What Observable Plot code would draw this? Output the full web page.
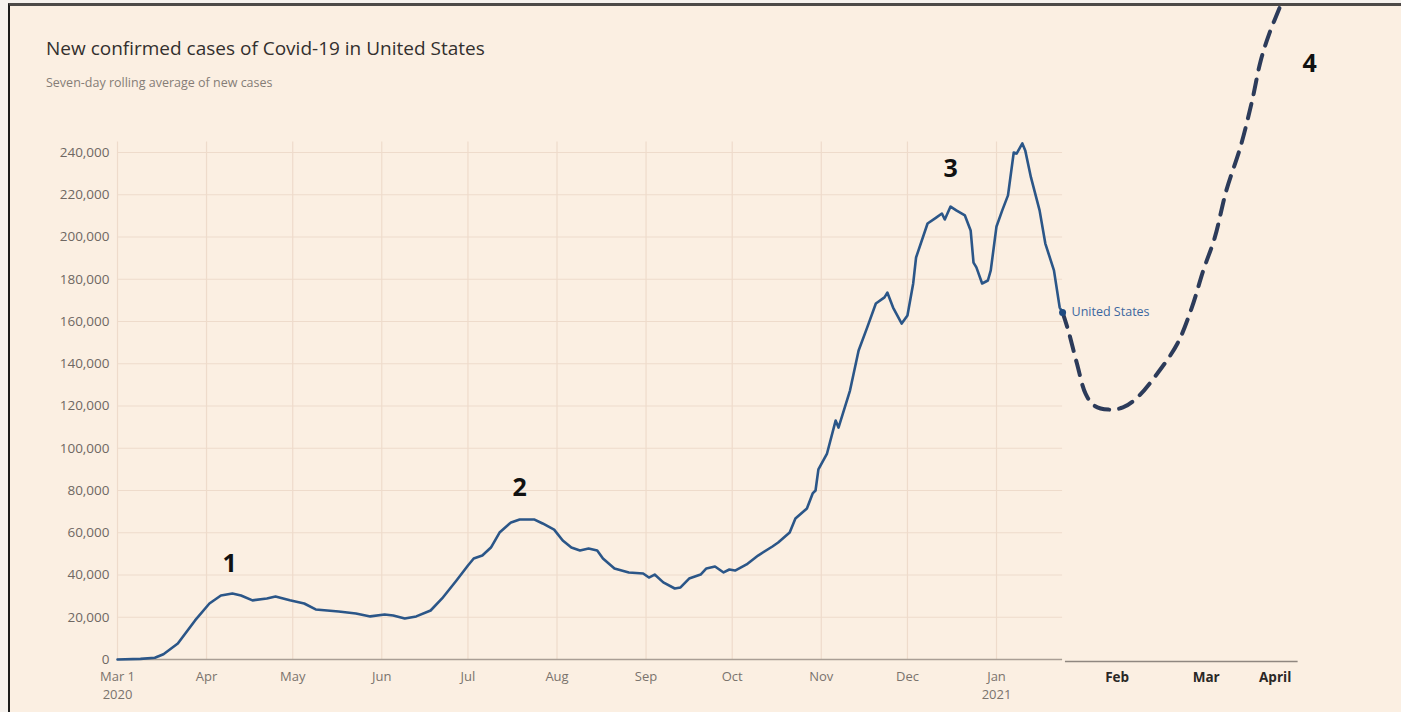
<!DOCTYPE html>
<html>
<head>
<meta charset="utf-8">
<script src="https://cdn.jsdelivr.net/npm/d3@7"></script>
<script src="https://cdn.jsdelivr.net/npm/@observablehq/plot@0.6"></script>
<style>
  html, body { margin: 0; padding: 0; background: #f6f2ee; }
  #page { position: relative; width: 1401px; height: 712px; overflow: hidden; background: #f6f2ee; }
  #paper { position: absolute; left: 8px; top: 3px; right: 0; bottom: 0; background: #fbefe2;
           border-left: 2px solid #1c1c1c; border-top: 3px solid #4d4a48; }
  #title { position: absolute; left: 46px; top: 35px; font-family: "Open Sans", sans-serif; font-size: 19px;
           color: #33302e; white-space: nowrap; }
  #subtitle { position: absolute; left: 46px; top: 74px; font-family: "Open Sans", sans-serif; font-size: 12.5px;
              color: #857d77; white-space: nowrap; }
  #chart { position: absolute; left: 0; top: 0; }
</style>
</head>
<body>
<div id="page">
  <div id="paper"></div>
  <div id="title">New confirmed cases of Covid-19 in United States</div>
  <div id="subtitle">Seven-day rolling average of new cases</div>
  <div id="chart"></div>
</div>
<script>
// ---- Data ----
const caseDates = [
  "2020-03-01","2020-03-09","2020-03-14","2020-03-17","2020-03-22","2020-03-28","2020-04-02","2020-04-06",
  "2020-04-10","2020-04-13","2020-04-17","2020-04-22","2020-04-25","2020-04-30","2020-05-05","2020-05-09",
  "2020-05-17","2020-05-23","2020-05-28","2020-06-02","2020-06-05","2020-06-09","2020-06-13","2020-06-18",
  "2020-06-22","2020-06-27","2020-07-01","2020-07-03","2020-07-06","2020-07-09","2020-07-12","2020-07-16",
  "2020-07-19","2020-07-24","2020-07-27","2020-07-31","2020-08-03","2020-08-06","2020-08-09","2020-08-12",
  "2020-08-15","2020-08-17","2020-08-21","2020-08-26","2020-08-31","2020-09-02","2020-09-04","2020-09-07",
  "2020-09-11","2020-09-13","2020-09-16","2020-09-20","2020-09-22","2020-09-25","2020-09-28","2020-09-30",
  "2020-10-02","2020-10-06","2020-10-10","2020-10-15","2020-10-17","2020-10-21","2020-10-23","2020-10-27",
  "2020-10-29","2020-10-30","2020-10-31","2020-11-03","2020-11-06","2020-11-07","2020-11-11","2020-11-14",
  "2020-11-17","2020-11-20","2020-11-23","2020-11-24","2020-11-26","2020-11-29","2020-12-01","2020-12-03",
  "2020-12-04","2020-12-08","2020-12-11","2020-12-13","2020-12-14","2020-12-16","2020-12-18","2020-12-21",
  "2020-12-23","2020-12-24","2020-12-25","2020-12-27","2020-12-29","2020-12-30","2021-01-01","2021-01-03",
  "2021-01-05","2021-01-07","2021-01-08","2021-01-10","2021-01-11","2021-01-13","2021-01-16","2021-01-18",
  "2021-01-21","2021-01-23","2021-01-24"
];
const caseValues = [
  0, 300, 800, 2500, 7600, 18500, 26500, 30300,
  31200, 30300, 28000, 28900, 29800, 28000, 26500, 23700,
  22700, 21800, 20400, 21300, 20800, 19400, 20400, 23200,
  28900, 37400, 44500, 47800, 49200, 53000, 60100, 64900,
  66300, 66300, 64400, 61500, 56300, 53000, 51600, 52500,
  51600, 47800, 43100, 41200, 40700, 38800, 40200, 36500,
  33600, 34100, 38300, 40200, 43100, 44000, 41200, 42600,
  42100, 45000, 49200, 53500, 55400, 60100, 66700, 71500,
  78600, 80000, 90000, 97500, 113100, 109800, 127300, 146300,
  157200, 168500, 171400, 173700, 166600, 159000, 162800, 178000,
  190300, 206400, 209200, 211100, 208300, 214400, 212600, 210200,
  203100, 187900, 185600, 178000, 179400, 184200, 205000, 212600,
  219700, 240000, 239500, 244300, 241000, 228200, 212600, 196900,
  184200, 166600, 164300
];

// Hand-drawn projection (dashed)
const projDates = [
  "2021-01-24","2021-01-26","2021-01-29","2021-02-01","2021-02-04","2021-02-09","2021-02-14","2021-02-19",
  "2021-02-26","2021-03-05","2021-03-10","2021-03-14","2021-03-18","2021-03-22","2021-03-27","2021-03-31",
  "2021-04-03","2021-04-06","2021-04-10"
];
const projValues = [
  164300, 155700, 140100, 125900, 120200, 118300, 119300, 124000,
  135400, 149600, 166600, 184200, 199800, 222000, 243000, 264600,
  283600, 296400, 310000
];

// Axis ticks
const yTicks = [0, 20000, 40000, 60000, 80000, 100000, 120000, 140000, 160000, 180000, 200000, 220000, 240000];
const monthTicks = ["2020-03-01","2020-04-01","2020-05-01","2020-06-01","2020-07-01","2020-08-01",
                    "2020-09-01","2020-10-01","2020-11-01","2020-12-01","2021-01-01"];
const monthLabels = ["Mar 1","Apr","May","Jun","Jul","Aug","Sep","Oct","Nov","Dec","Jan"];
const yearTickDates = ["2020-03-01","2021-01-01"];
const yearLabels = ["2020","2021"];

// Hand-drawn extension axis labels (placed where the sketch puts them)
const sketchTickDates = ["2021-02-12","2021-03-15","2021-04-08"];
const sketchTickLabels = ["Feb","Mar","April"];

// Wave annotations
const waveLabels = ["1","2","3","4"];
const waveDates = ["2020-04-09","2020-07-19","2020-12-16","2021-04-20"];
const waveValues = [45400, 81400, 232400, 282100];

// Extents
const dataStart = "2020-03-01";
const dataEnd = "2021-01-24";
const sketchAxisStart = "2021-01-25";
const sketchAxisEnd = "2021-04-16";
const gridTop = 245000;
const seriesName = "United States";

// ---- Build tables ----
const P = d => new Date(d + "T00:00:00Z");
const cases = caseDates.map((d, i) => ({date: P(d), value: caseValues[i]}));
const proj = projDates.map((d, i) => ({date: P(d), value: projValues[i]}));
const months = monthTicks.map((d, i) => ({date: P(d), label: monthLabels[i]}));
const years = yearTickDates.map((d, i) => ({date: P(d), label: yearLabels[i]}));
const sketchTicks = sketchTickDates.map((d, i) => ({date: P(d), label: sketchTickLabels[i]}));
const waves = waveLabels.map((l, i) => ({label: l, date: P(waveDates[i]), value: waveValues[i]}));
const last = cases[cases.length - 1];

const chart = Plot.plot({
  width: 1401,
  height: 712,
  marginTop: 0, marginRight: 0, marginBottom: 0, marginLeft: 0,
  style: {background: "transparent", overflow: "visible", fontFamily: "'Open Sans', sans-serif"},
  x: {type: "utc", domain: [P("2020-03-01"), P("2021-01-01")], range: [117, 996], axis: null},
  y: {type: "linear", domain: [0, 240000], range: [659, 152], axis: null},
  marks: [
    // horizontal grid
    Plot.ruleY(yTicks.slice(1), {x1: P(dataStart), x2: P(dataEnd), stroke: "#eedbcb", strokeWidth: 1.2}),
    // vertical grid
    Plot.ruleX(months, {x: "date", y1: 0, y2: gridTop, stroke: "#eedbcb", strokeWidth: 1.2}),
    // main baseline
    Plot.ruleY([0], {x1: P(dataStart), x2: P(dataEnd), stroke: "#a99e95", strokeWidth: 1.6}),
    // sketch baseline
    Plot.ruleY([0], {x1: P(sketchAxisStart), x2: P(sketchAxisEnd), stroke: "#8f8780", strokeWidth: 1.6, dy: 2}),
    // y tick labels
    Plot.text(yTicks, {x: P(dataStart), y: d => d, text: d => d3.format(",")(d), textAnchor: "end", dx: -8,
      fontSize: 13.5, fill: "#6f6863"}),
    // month labels
    Plot.text(months, {x: "date", y: 0, text: "label", dy: 17, fontSize: 13, fill: "#7a736d"}),
    // year labels
    Plot.text(years, {x: "date", y: 0, text: "label", dy: 35, fontSize: 13, fill: "#7a736d"}),
    // sketch month labels
    Plot.text(sketchTicks, {x: "date", y: 0, text: "label", dy: 18,
      fontSize: 13.5, fontWeight: "bold", fill: "#2a2826"}),
    // projection
    Plot.line(proj, {x: "date", y: "value", stroke: "#2c3b5a", strokeWidth: 4, strokeDasharray: "15,10",
      curve: "catmull-rom"}),
    // main line
    Plot.line(cases, {x: "date", y: "value", stroke: "#2b5688", strokeWidth: 2.6, curve: "linear"}),
    Plot.dot([last], {x: "date", y: "value", r: 3.5, fill: "#1e4a80"}),
    Plot.text([last], {x: "date", y: "value", text: () => seriesName, textAnchor: "start", dx: 9,
      fontSize: 12.5, fill: "#3b67a0"}),
    // wave annotations
    Plot.text(waves, {x: "date", y: "value", text: "label", fontSize: 25, fontWeight: "bold", fill: "#111"})
  ]
});
document.getElementById("chart").appendChild(chart);
</script>
</body>
</html>
